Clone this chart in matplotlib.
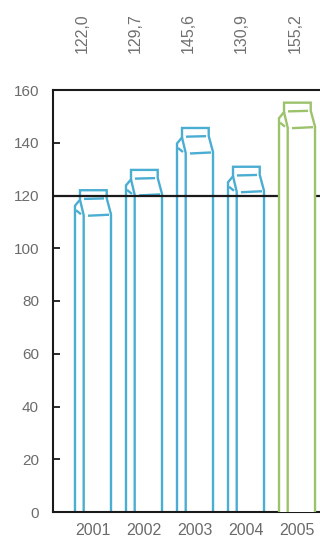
import matplotlib
matplotlib.use("Agg")
import matplotlib.pyplot as plt
import matplotlib.transforms as mtransforms

plt.rcParams['font.family'] = ['Liberation Sans', 'DejaVu Sans']

years = ['2001', '2002', '2003', '2004', '2005']
values = [122.0, 129.7, 145.6, 130.9, 155.2]
reference_level = 120
colors = ['#4aadd2', '#4aadd2', '#4aadd2', '#4aadd2', '#9cc26c']

W, H, DPI = 320, 538, 100
fig = plt.figure(figsize=(W / DPI, H / DPI), dpi=DPI)
ax = fig.add_axes([53 / W, 26 / H, 283.6 / W, 422 / H])
ax.set_xlim(-0.784, 4.776)
ax.set_ylim(0, 160)

# pixel -> data scale factors, so the carton outline can be given in pixels
sx = 1 / 51
sy = 160 / 422


def carton(ax, xc, top, color, z):
    x0 = xc - 18 * sx

    def P(dx, dy):
        return (x0 + dx * sx, top - dy * sy)

    outline = [(x0, 0), P(0, 15.5), P(5, 9.5), P(5, 0), P(31.7, 0),
               P(31.7, 8), P(36, 24), (x0 + 36 * sx, 0)]
    ax.fill([p[0] for p in outline], [p[1] for p in outline],
            color='white', zorder=z, lw=0)
    ax.plot([p[0] for p in outline], [p[1] for p in outline],
            color=color, lw=1.7, zorder=z + 0.1, solid_joinstyle='miter')
    segs = [
        [P(5, 9.5), P(8.7, 25), (x0 + 8.7 * sx, 0)],   # front panel edge
        [P(1, 20), P(6, 24)],                          # side fold
        [P(9, 8.7), P(29, 8.2)],                       # upper crease
        [P(13, 25.5), P(34, 24.5)],                    # lower crease
    ]
    for s in segs:
        ax.plot([p[0] for p in s], [p[1] for p in s], color=color,
                lw=1.7, zorder=z + 0.1, solid_capstyle='butt')


xs = list(range(len(years)))
for i, (x, v, c) in enumerate(zip(xs, values, colors)):
    carton(ax, x, v, c, 4 if i == len(years) - 1 else 2)

ax.axhline(reference_level, color='#1a1a1a', lw=1.6, zorder=3)

# value labels above the plot
trans = mtransforms.blended_transform_factory(ax.transData, fig.transFigure)
for x, v in zip(xs, values):
    ax.text(x - 0.22 + 0.045 * x, (H - 33) / H, f"{v:.1f}".replace('.', ','),
            rotation=90, ha='center', va='center', fontsize=11.5,
            color='#707070', transform=trans, clip_on=False)

for side in ['left', 'bottom', 'top']:
    ax.spines[side].set_linewidth(1.5)
    ax.spines[side].set_color('#1a1a1a')
ax.spines['right'].set_visible(False)

ax.set_yticks(range(0, 161, 20))
ax.tick_params(axis='y', direction='in', length=5, width=1.3, pad=10,
               labelsize=11, labelcolor='#6b6b6b', color='#1a1a1a')
ax.set_xticks(xs)
ax.set_xticklabels(years)
ax.tick_params(axis='x', length=0, pad=8, labelsize=11.5, labelcolor='#6b6b6b')

fig.savefig('out.png', dpi=DPI)
